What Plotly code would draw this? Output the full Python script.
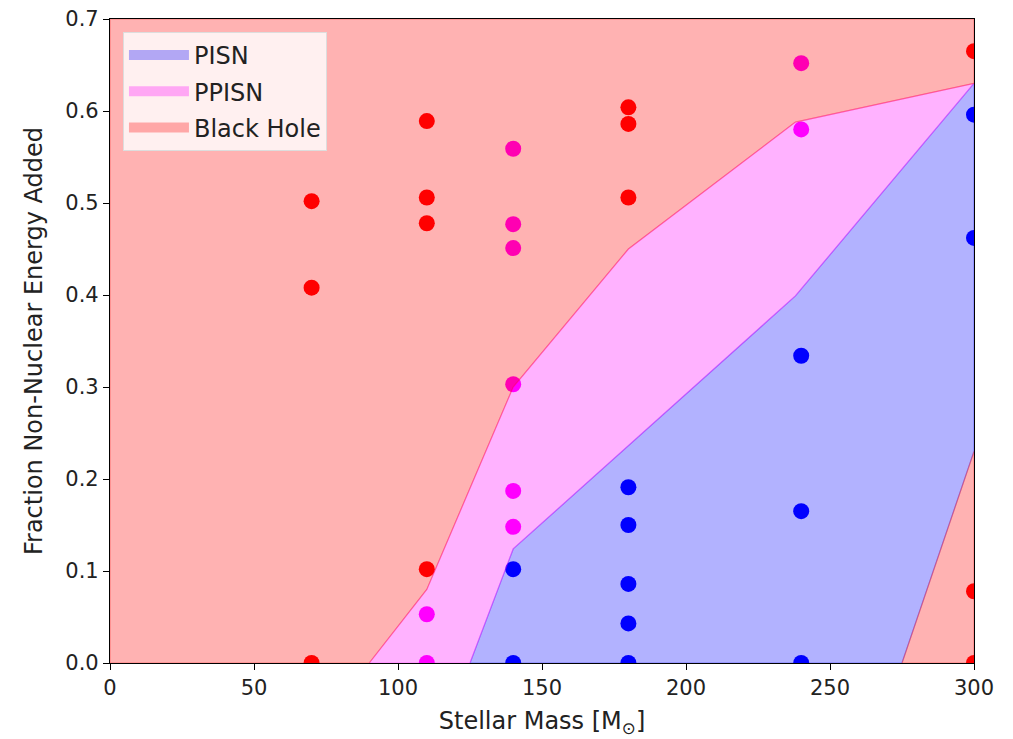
import plotly.graph_objects as go

# ---- data ----
red_x = [70, 70, 70, 110, 110, 110, 110, 180, 180, 180, 300, 300, 300]
red_y = [0.502, 0.408, 0.0, 0.589, 0.506, 0.478, 0.102, 0.604, 0.586, 0.506, 0.665, 0.078, 0.0]

magenta_x = [110, 110, 140, 140, 140, 140, 140, 140, 240, 240]
magenta_y = [0.053, 0.0, 0.559, 0.477, 0.451, 0.303, 0.187, 0.148, 0.652, 0.580]

blue_x = [140, 140, 180, 180, 180, 180, 180, 240, 240, 240, 300, 300]
blue_y = [0.102, 0.0, 0.191, 0.150, 0.086, 0.043, 0.0, 0.334, 0.165, 0.0, 0.596, 0.462]

# region boundaries
ppisn_upper_x = [90, 110, 140, 180, 238, 300]
ppisn_upper_y = [0.0, 0.08, 0.30, 0.45, 0.588, 0.63]

pisn_upper_x = [125, 140, 238, 300]
pisn_upper_y = [0.0, 0.124, 0.399, 0.63]

bh_right_x = [275, 300]
bh_right_y = [0.0, 0.23]

x_min, x_max = 0, 300
y_min, y_max = 0.0, 0.7
x_ticks = [0, 50, 100, 150, 200, 250, 300]
y_ticks = [0.0, 0.1, 0.2, 0.3, 0.4, 0.5, 0.6, 0.7]

# ---- build polygons ----
pisn_px = pisn_upper_x + [bh_right_x[1], bh_right_x[0], pisn_upper_x[0]]
pisn_py = pisn_upper_y + [bh_right_y[1], bh_right_y[0], pisn_upper_y[0]]

ppisn_px = ppisn_upper_x + pisn_upper_x[::-1] + [ppisn_upper_x[0]]
ppisn_py = ppisn_upper_y + pisn_upper_y[::-1] + [ppisn_upper_y[0]]

bh1_px = [x_min] + ppisn_upper_x + [x_max, x_min, x_min]
bh1_py = [y_min] + ppisn_upper_y + [y_max, y_max, y_min]
bh2_px = bh_right_x + [x_max, bh_right_x[0]]
bh2_py = bh_right_y + [y_min, bh_right_y[0]]

fig = go.Figure()

# points first, so the translucent fills sit on top (as in the reference)
for xs, ys, col in [(red_x, red_y, "#ff0000"), (magenta_x, magenta_y, "#ff00ff"),
                    (blue_x, blue_y, "#0000ff")]:
    fig.add_trace(go.Scatter(x=xs, y=ys, mode="markers", showlegend=False,
                             marker=dict(color=col, size=16, line=dict(width=0)),
                             hoverinfo="skip"))

blue_fill = "rgba(0,0,255,0.3)"
mag_fill = "rgba(255,0,255,0.3)"
red_fill = "rgba(255,0,0,0.3)"

regions = [
    ("PISN", "pisn", blue_fill, [(pisn_px, pisn_py)]),
    ("PPISN", "ppisn", mag_fill, [(ppisn_px, ppisn_py)]),
    ("Black Hole", "bh", red_fill, [(bh1_px, bh1_py), (bh2_px, bh2_py)]),
]
for name, grp, col, polys in regions:
    for px, py in polys:
        fig.add_trace(go.Scatter(x=px, y=py, mode="lines", fill="toself",
                                 fillcolor=col, line=dict(color=col, width=1.2),
                                 name=name, legendgroup=grp, showlegend=False,
                                 hoverinfo="skip"))
    # legend swatch (wide, thick patch like matplotlib)
    fig.add_trace(go.Scatter(x=[None, None], y=[None, None], mode="lines",
                             line=dict(color=col, width=18),
                             name=name, legendgroup=grp, showlegend=True))

font_family = "DejaVu Sans"
txt_col = "#222222"
axis_common = dict(showgrid=False, zeroline=False, showline=True, linecolor="black",
                   linewidth=1.2, mirror=True, ticks="outside", ticklen=6,
                   tickcolor="black", tickwidth=1.2, automargin=False,
                   ticklabeloverflow="allow",
                   tickfont=dict(family=font_family, size=21, color=txt_col))

fig.update_layout(
    width=1013, height=739,
    margin=dict(l=102, r=47, t=11, b=84),
    paper_bgcolor="white", plot_bgcolor="white",
    font=dict(family=font_family, size=21, color=txt_col),
    xaxis=dict(range=[x_min, x_max], tickvals=x_ticks,
               title=dict(text="Stellar Mass [M<sub>⊙</sub>]", standoff=12,
                          font=dict(family=font_family, size=24, color=txt_col)),
               **axis_common),
    yaxis=dict(range=[y_min, y_max + 1e-7], tickvals=y_ticks, tickformat=".1f",
               title=dict(text="Fraction Non-Nuclear Energy Added", standoff=15,
                          font=dict(family=font_family, size=24, color=txt_col)),
               **axis_common),
    legend=dict(x=0.015, y=0.98, xanchor="left", yanchor="top",
                bgcolor="rgba(255,255,255,0.8)", bordercolor="#dddddd", borderwidth=1,
                font=dict(family=font_family, size=24, color=txt_col),
                traceorder="grouped", tracegroupgap=2, itemwidth=60),
    showlegend=True,
)

fig.write_html("out.html")
